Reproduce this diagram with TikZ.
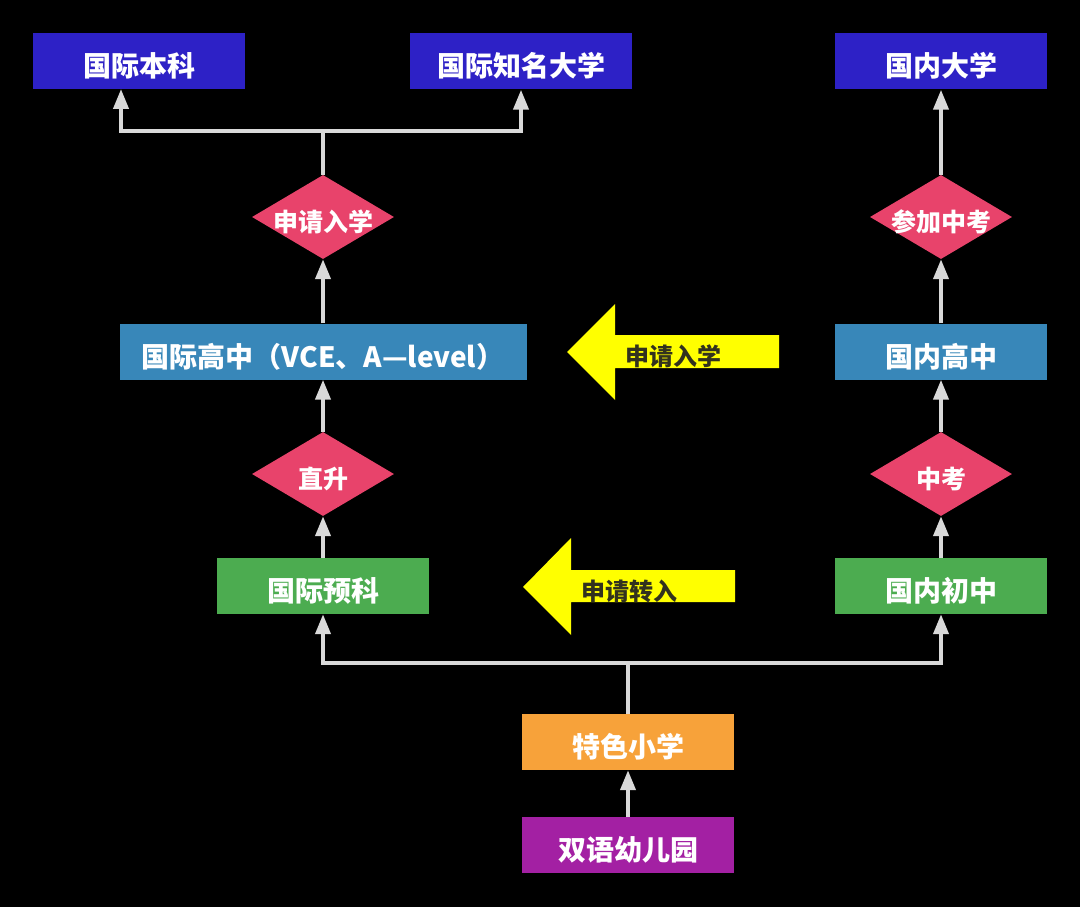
\documentclass[tikz,border=0pt]{standalone}
\usepackage{fontspec}
\newfontfamily\cjk{Noto Sans CJK SC}
\usetikzlibrary{shapes.geometric,arrows.meta}
\definecolor{cblue}{RGB}{45,33,198}
\definecolor{cpink}{RGB}{232,67,107}
\definecolor{csteel}{RGB}{56,135,185}
\definecolor{cgreen}{RGB}{76,172,80}
\definecolor{corange}{RGB}{247,162,58}
\definecolor{cpurple}{RGB}{163,32,163}
\definecolor{cyel}{RGB}{255,255,0}
\definecolor{cgray}{RGB}{217,217,217}
\definecolor{cdark}{RGB}{50,50,30}
\tikzset{
  box/.style={rectangle, minimum height=56pt, minimum width=212pt, inner sep=0pt, text=white, text height=31pt, text depth=0pt, font=\cjk\bfseries\fontsize{28}{32}\selectfont},
  dia/.style={diamond, fill=cpink, minimum width=142pt, minimum height=84pt, inner sep=0pt},
  dtext/.style={inner sep=0pt, text=white, text height=28pt, text depth=0pt, font=\cjk\bfseries\fontsize{25}{29}\selectfont},
  conn/.style={draw=cgray, line width=4pt, -{Triangle[width=15pt,length=20pt]}},
  plain/.style={draw=cgray, line width=4pt},
  yarrow/.style={fill=cyel},
  ytext/.style={text=cdark, inner sep=0pt, text height=26pt, text depth=0pt, font=\cjk\bfseries\fontsize{24}{28}\selectfont}
}
\begin{document}
\begin{tikzpicture}[x=1pt,y=-1pt]
\fill[black] (0,0) rectangle (1080,907);
% top row
\node[box, fill=cblue] (b1) at (139,61.5) {国际本科};
\node[box, fill=cblue, minimum width=222pt] (b2) at (521,61.5) {国际知名大学};
\node[box, fill=cblue] (b3) at (941,61.5) {国内大学};
% diamonds
\node[dia] (d1) at (323,217) {};
\node[dtext] (t1) at (d1) {申请入学};
\node[dia] (d3) at (941,217) {};
\node[dtext] (t3) at (d3) {参加中考};
\node[dia] (d2) at (323,474) {};
\node[dtext] (t2) at (d2) {直升};
\node[dia] (d4) at (941,474) {};
\node[dtext] (t4) at (d4) {中考};
% middle
\node[box, fill=csteel, minimum width=407pt] (hs) at (323,351.5) {国际高中（VCE、A—level）};
\node[box, fill=csteel] (gz) at (941,351.5) {国内高中};
\node[box, fill=cgreen] (ib) at (323,586) {国际预科};
\node[box, fill=cgreen] (cz) at (941,586) {国内初中};
% bottom
\node[box, fill=corange] (ts) at (628,742) {特色小学};
\node[box, fill=cpurple] (ye) at (628,845) {双语幼儿园};
% yellow arrows
\fill[yarrow] (567,352) -- (615,304) -- (615,335) -- (779,335) -- (779,368) -- (615,368) -- (615,400) -- cycle;
\node[ytext] (y1) at (673,352) {申请入学};
\fill[yarrow] (523,587) -- (571,538) -- (571,570) -- (735,570) -- (735,602) -- (571,602) -- (571,635) -- cycle;
\node[ytext] (y2) at (629,587) {申请转入};
% connectors
\coordinate (j1) at (323,131);
\coordinate (k1) at (121,89);
\draw[plain] (d1.north) -- (j1);
\draw[conn] (j1) -| (k1);
\draw[conn] (j1) -| (b2.south);
\draw[conn] (hs.north) -- (d1.south);
\draw[conn] (d2.north) -- (hs.south);
\draw[conn] (ib.north) -- (d2.south);
\draw[conn] (gz.north) -- (d3.south);
\draw[conn] (d3.north) -- (b3.south);
\draw[conn] (d4.north) -- (gz.south);
\draw[conn] (cz.north) -- (d4.south);
\coordinate (j2) at (628,663);
\draw[plain] (ts.north) -- (j2);
\draw[conn] (j2) -| (ib.south);
\draw[conn] (j2) -| (cz.south);
\draw[conn] (ye.north) -- (ts.south);
\end{tikzpicture}
\end{document}
